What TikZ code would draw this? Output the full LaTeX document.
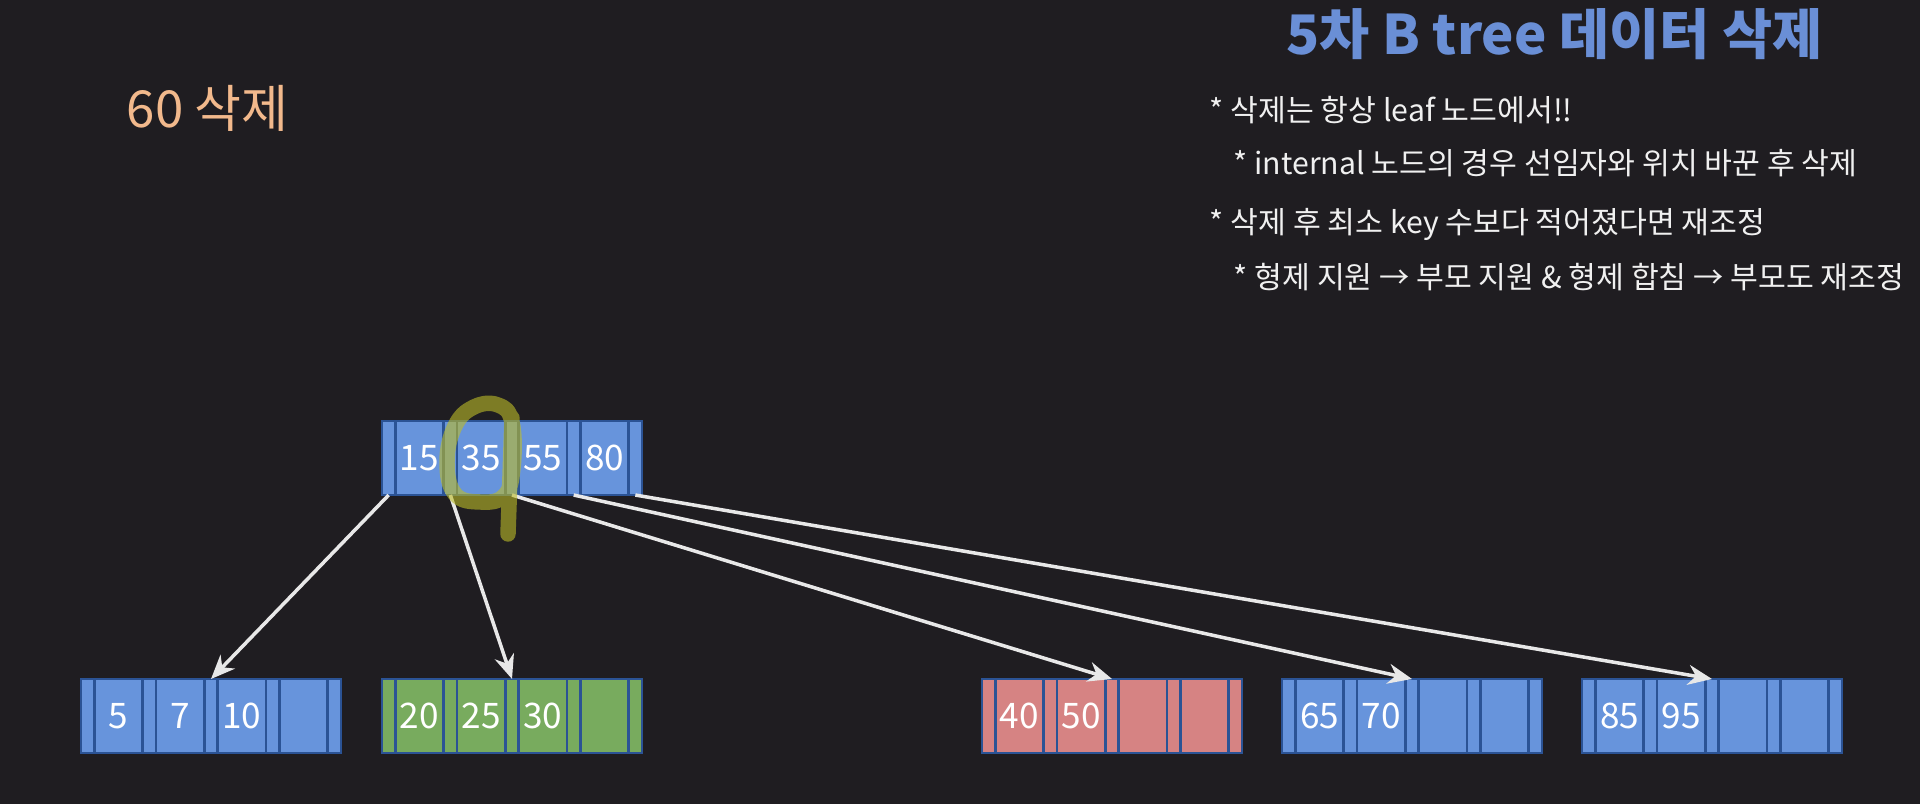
\documentclass[tikz,border=0pt]{standalone}
\usepackage{fontspec}
\setmainfont{Noto Sans CJK KR}
\usepackage{xcolor}
\usetikzlibrary{arrows.meta}

\definecolor{bgdark}{HTML}{1F1D21}
\definecolor{titleblue}{HTML}{6A8FD6}
\definecolor{peach}{HTML}{F2B98C}
\definecolor{notewhite}{HTML}{F0F0F0}
\definecolor{cellblue}{HTML}{6794DC}
\definecolor{cellgreen}{HTML}{78AB5E}
\definecolor{cellred}{HTML}{D68383}
\definecolor{cellline}{HTML}{2B5395}
\definecolor{arrwhite}{HTML}{E8E8E8}
\definecolor{marker}{HTML}{BCBC28}

% one B-tree node: name, left x, top y, fill, keys
\newcommand{\btnode}[5]{%
  \foreach \k [count=\i from 0] in {#5} {
    \node[ptr, fill=#4] (#1p\i) at ({#2+\i*61.67}, #3) {};
    \node[keycell, fill=#4] (#1k\i) at ({#2+13.33+\i*61.67}, #3) {\k};
  }
  \node[ptr, fill=#4] (#1p4) at ({#2+246.67}, #3) {};
}

\begin{document}
\begin{tikzpicture}[
    x=0.01cm, y=-0.01cm,
    cell/.style={rectangle, draw=cellline, line width=0.8pt,
                 inner sep=0pt, outer sep=0pt, anchor=north west,
                 minimum height=0.74cm},
    ptr/.style={cell, minimum width=0.1333cm},
    keycell/.style={cell, minimum width=0.4833cm, text=white,
                    font=\fontsize{10}{11}\selectfont},
    note/.style={anchor=west, text=notewhite, inner sep=0pt,
                 font=\fontsize{8.6}{10}\selectfont},
    arr/.style={-{Stealth[length=0.24cm, width=0.2cm]},
                line width=1pt, draw=arrwhite},
    hl/.style={draw=marker, opacity=0.6, line width=4.4pt,
               line cap=round, line join=round}
]
\fill[bgdark] (0,0) rectangle (1920,804);
\useasboundingbox (0,0) rectangle (1920,804);

\node[anchor=west, inner sep=0pt, text=titleblue,
      font=\bfseries\fontsize{15.5}{18}\selectfont]
    (title) at (1286,34) {5차 B tree 데이터 삭제};
\node[note] (rule1) at (1209,110) {* 삭제는 항상 leaf 노드에서!!};
\node[note] (rule2) at (1233,163) {* internal 노드의 경우 선임자와 위치 바꾼 후 삭제};
\node[note] (rule3) at (1209,224) {* 삭제 후 최소 key 수보다 적어졌다면 재조정};
\node[note] (rule4) at (1233,277) {* 형제 지원 → 부모 지원 \& 형제 합침 → 부모도 재조정};

\node[anchor=west, inner sep=0pt, text=peach,
      font=\fontsize{14.5}{17}\selectfont]
    (target) at (126,108) {60 삭제};

\btnode{root}{382}{421}{cellblue}{15,35,55,80}
\btnode{leafa}{81}{679}{cellblue}{5,7,10,{}}
\btnode{leafb}{382}{679}{cellgreen}{20,25,30,{}}
\btnode{leafc}{982}{679}{cellred}{40,50,{},{}}
\btnode{leafd}{1282}{679}{cellblue}{65,70,{},{}}
\btnode{leafe}{1582}{679}{cellblue}{85,95,{},{}}

\draw[arr] (rootp0.south) -- (leafap2.north);
\draw[arr] (rootp1.south) -- (leafbp2.north);
\draw[arr] (rootp2.south) -- (leafcp2.north);
\draw[arr] (rootp3.south) -- (leafdp2.north);
\draw[arr] (rootp4.south) -- (leafep2.north);

% hand-drawn mark round 35
\draw[hl] plot[smooth cycle, tension=0.7] coordinates
    {(512,422) (498,405) (474,407) (455,426) (447,462)
     (455,494) (480,502) (504,496) (513,468)}
    (512,418) -- (508,534);
\end{tikzpicture}
\end{document}
